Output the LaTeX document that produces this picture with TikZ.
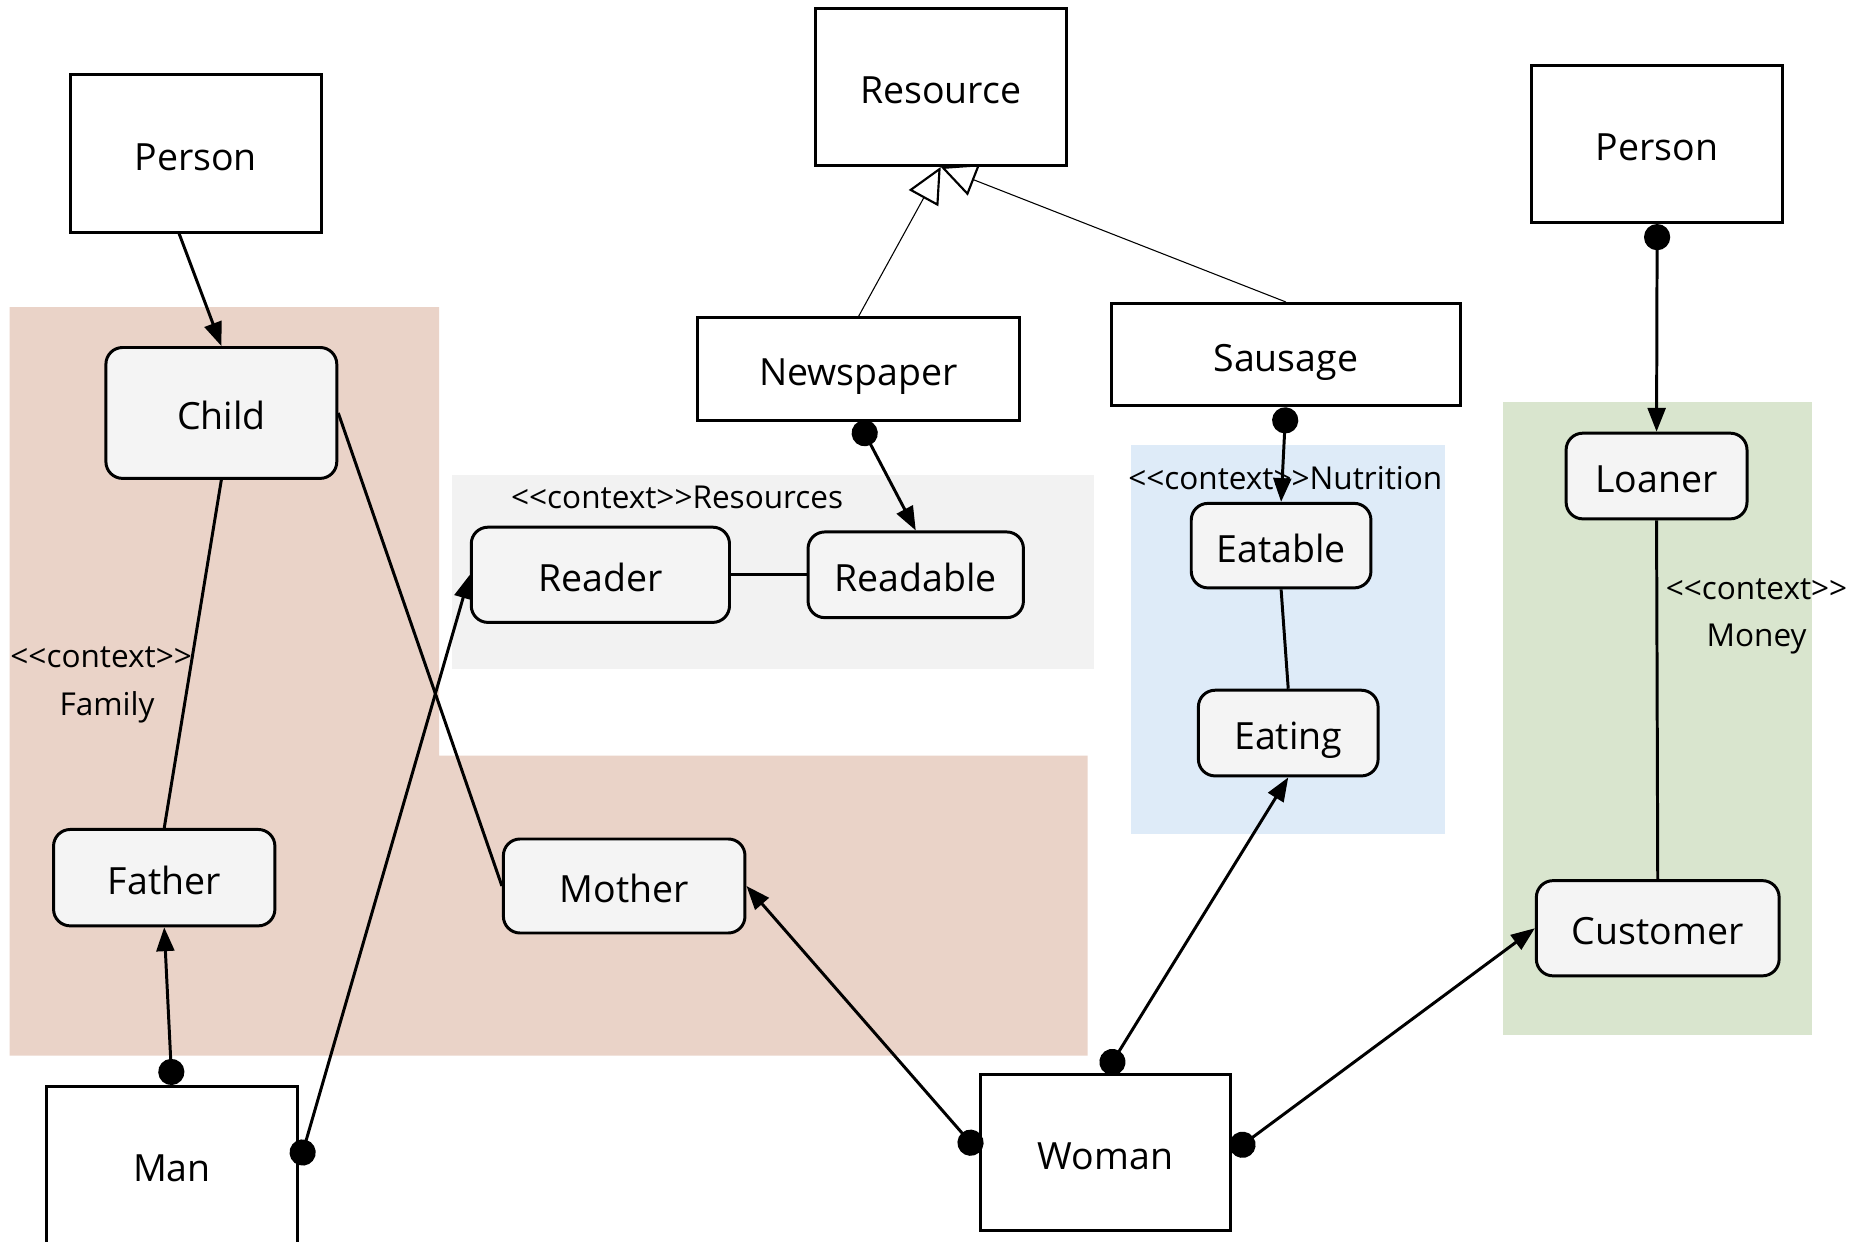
\documentclass[tikz,border=0pt]{standalone}
\usepackage{fontspec}
\setmainfont{Open Sans}
\usetikzlibrary{arrows.meta}
\definecolor{famcol}{HTML}{EAD3C8}
\definecolor{rescol}{HTML}{F2F2F2}
\definecolor{nutcol}{HTML}{DEEBF8}
\definecolor{moncol}{HTML}{D9E5CE}
\definecolor{rolecol}{HTML}{F4F4F4}
\newcommand{\stereo}{<\kern0pt<context>\kern0pt>}
\tikzset{
    cls/.style={draw, line width=2.5pt, fill=white, inner sep=0pt,
        text height=36pt, text depth=8pt,
        font=\fontsize{31.5}{38}\selectfont},
    role/.style={draw, line width=2.5pt, fill=rolecol, rounded corners=14pt,
        inner sep=0pt, text height=36pt, text depth=8pt,
        font=\fontsize{31.5}{38}\selectfont},
    ctx/.style={inner sep=0pt, font=\fontsize{26.5}{32}\selectfont},
    link/.style={line width=2.5pt},
    arr/.style={line width=2.5pt, -{Triangle[length=20pt,width=15pt]}},
    assoc/.style={line width=2.5pt, {Circle[length=22pt]}-{Triangle[length=20pt,width=15pt]}},
    gen/.style={line width=0.9pt, -{Triangle[open,length=30pt,width=28pt,line width=1.8pt]}}
}

\begin{document}
\begin{tikzpicture}[x=1pt,y=-1pt]
    \useasboundingbox (0,0) rectangle (1568,1043);
    \fill[white] (0,0) rectangle (1568,1043);
    % contexts
    \fill[famcol] (8,258) -- (369,258) -- (369,635) -- (914,635) -- (914,887) -- (8,887) -- cycle;
    \fill[rescol] (380,399) rectangle (919,562);
    \fill[nutcol] (950,374) rectangle (1214,701);
    \fill[moncol] (1263,338) rectangle (1523,870);
    \node[ctx] (ctxres) at (569,418) {\stereo Resources};
    \node[ctx] (ctxnut) at (1080,402) {\stereo Nutrition};
    \node[ctx] (ctxfam) at (85,552) {\stereo};
    \node[ctx] (famlbl) at (90,594) {Family};
    \node[ctx] (ctxmon) at (1476,495) {\stereo};
    \node[ctx] (monlbl) at (1476,537) {Money};

    \node[cls, minimum width=211pt, minimum height=132pt] (person1) at (164.5,129) {Person};
    \node[cls, minimum width=211pt, minimum height=132pt] (resource) at (790.5,73) {Resource};
    \node[cls, minimum width=211pt, minimum height=132pt] (person2) at (1392.5,121) {Person};
    \node[cls, minimum width=271pt, minimum height=86pt] (newspaper) at (721.5,310) {Newspaper};
    \node[cls, minimum width=293pt, minimum height=86pt] (sausage) at (1080.5,298) {Sausage};
    \node[cls, minimum width=211pt, minimum height=132pt] (man) at (144.5,979) {Man};
    \node[cls, minimum width=210pt, minimum height=131pt] (woman) at (929,968.5) {Woman};

    \node[role, minimum width=194pt, minimum height=110pt] (child) at (186,347) {Child};
    \node[role, minimum width=186pt, minimum height=81pt] (father) at (138,737.5) {Father};
    \node[role, minimum width=203pt, minimum height=79pt] (mother) at (524.5,744.5) {Mother};
    \node[role, minimum width=217pt, minimum height=80pt] (reader) at (504.5,483) {Reader};
    \node[role, minimum width=181pt, minimum height=72pt] (readable) at (769.5,483) {Readable};
    \node[role, minimum width=151pt, minimum height=71pt] (eatable) at (1076.5,458.5) {Eatable};
    \node[role, minimum width=151pt, minimum height=72pt] (eating) at (1082.5,616) {Eating};
    \node[role, minimum width=152pt, minimum height=72pt] (loaner) at (1392,400) {Loaner};
    \node[role, minimum width=204pt, minimum height=80pt] (customer) at (1393,780) {Customer};

    \draw[gen] (newspaper.north) -- (resource.south);
    \draw[gen] (sausage.north) -- (resource.south);
    \draw[arr] ([xshift=-14pt]person1.south) -- (child.north);
    \draw[link] (child.south) -- (father.north);
    \draw[link] (child.east) -- (mother.west);
    \draw[link] (reader.east) -- (readable.west);
    \draw[link] (eatable.south) -- (eating.north);
    \draw[link] (loaner.south) -- (customer.north);
    \draw[assoc] (man.north) -- (father.south);
    \draw[assoc] (man.east) -- (reader.west);
    \draw[assoc] (newspaper.south) -- (readable.north);
    \draw[assoc] (sausage.south) -- (eatable.north);
    \draw[assoc] (person2.south) -- (loaner.north);
    \draw[assoc] (woman.north) -- (eating.south);
    \draw[assoc] (woman.west) -- (mother.east);
    \draw[assoc] (woman.east) -- (customer.west);
\end{tikzpicture}
\end{document}
